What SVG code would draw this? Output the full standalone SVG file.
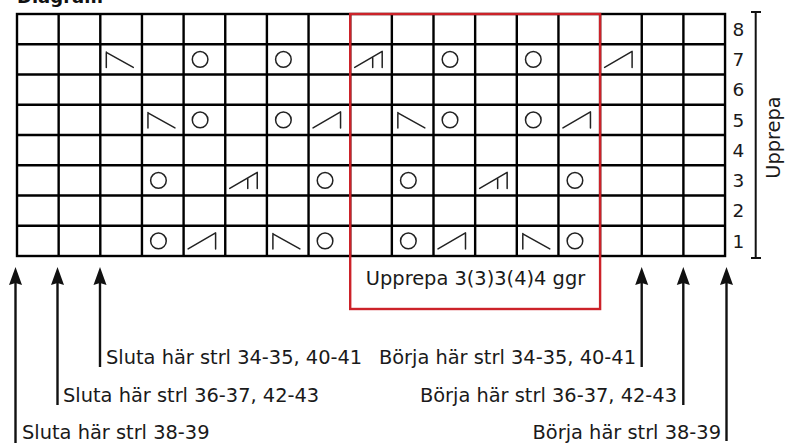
<svg xmlns="http://www.w3.org/2000/svg" width="788" height="446" viewBox="0 0 788 446">
<style>
  .grid{stroke:#000;stroke-width:2.4;fill:none}
  .sym{stroke:#222;stroke-width:1.5;fill:none;stroke-linecap:round;stroke-linejoin:round}
  .red{stroke:#cc2229;stroke-width:2.4;fill:none}
  .t{font-family:"DejaVu Sans",sans-serif;font-size:19.4px;fill:#1a1a1a}
  .num{font-family:"DejaVu Sans",sans-serif;font-size:18.5px;fill:#1a1a1a;text-anchor:middle}
  .shaft{stroke:#111;stroke-width:2.4}
  .head{fill:#111}
</style>
<defs>
  <circle id="circ" class="sym" cx="16.5" cy="0" r="7.8"/>
  <path id="dl" class="sym" d="M6,-7.5 V8 M6,-7 L33,8"/>
  <path id="dr" class="sym" d="M4.5,8 L32,-8 V8"/>
  <path id="dr2" class="sym" d="M4.5,8 L32,-8 V8 M22.5,-2.5 V8"/>
  <path id="ah" class="head" d="M0,0 L6.5,18 L0,16 L-6.5,18 Z"/>
</defs>

<text x="17" y="2.5" style="font-family:'DejaVu Sans',sans-serif;font-size:18px;font-weight:bold;fill:#111">Diagram</text>

<g id="chart">
  <rect class="grid" x="17" y="14" width="708.05" height="242"/>
  <path class="grid" d="M58.65,14V256 M100.3,14V256 M141.95,14V256 M183.6,14V256 M225.25,14V256 M266.9,14V256 M308.55,14V256 M350.2,14V256 M391.85,14V256 M433.5,14V256 M475.15,14V256 M516.8,14V256 M558.45,14V256 M600.1,14V256 M641.75,14V256 M683.4,14V256
  M17,44.25H725 M17,74.5H725 M17,104.75H725 M17,135H725 M17,165.25H725 M17,195.5H725 M17,225.75H725"/>
  <!-- row 7 -->
  <use href="#dl" transform="translate(100.3,59.4)"/>
  <use href="#circ" transform="translate(183.6,59.4)"/>
  <use href="#circ" transform="translate(266.9,59.4)"/>
  <use href="#dr2" transform="translate(350.2,59.4)"/>
  <use href="#circ" transform="translate(433.5,59.4)"/>
  <use href="#circ" transform="translate(516.8,59.4)"/>
  <use href="#dr" transform="translate(600.1,59.4)"/>
  <!-- row 5 -->
  <use href="#dl" transform="translate(141.95,119.9)"/>
  <use href="#circ" transform="translate(183.6,119.9)"/>
  <use href="#circ" transform="translate(266.9,119.9)"/>
  <use href="#dr" transform="translate(308.55,119.9)"/>
  <use href="#dl" transform="translate(391.85,119.9)"/>
  <use href="#circ" transform="translate(433.5,119.9)"/>
  <use href="#circ" transform="translate(516.8,119.9)"/>
  <use href="#dr" transform="translate(558.45,119.9)"/>
  <!-- row 3 -->
  <use href="#circ" transform="translate(141.95,180.4)"/>
  <use href="#dr2" transform="translate(225.25,180.4)"/>
  <use href="#circ" transform="translate(308.55,180.4)"/>
  <use href="#circ" transform="translate(391.85,180.4)"/>
  <use href="#dr2" transform="translate(475.15,180.4)"/>
  <use href="#circ" transform="translate(558.45,180.4)"/>
  <!-- row 1 -->
  <use href="#circ" transform="translate(141.95,240.9)"/>
  <use href="#dr" transform="translate(183.6,240.9)"/>
  <use href="#dl" transform="translate(266.9,240.9)"/>
  <use href="#circ" transform="translate(308.55,240.9)"/>
  <use href="#circ" transform="translate(391.85,240.9)"/>
  <use href="#dr" transform="translate(433.5,240.9)"/>
  <use href="#dl" transform="translate(516.8,240.9)"/>
  <use href="#circ" transform="translate(558.45,240.9)"/>
</g>

<g id="row-numbers">
  <text class="num" x="738.5" y="35.8">8</text>
  <text class="num" x="738.5" y="66.1">7</text>
  <text class="num" x="738.5" y="96.3">6</text>
  <text class="num" x="738.5" y="126.6">5</text>
  <text class="num" x="738.5" y="156.8">4</text>
  <text class="num" x="738.5" y="187.1">3</text>
  <text class="num" x="738.5" y="217.3">2</text>
  <text class="num" x="738.5" y="247.6">1</text>
</g>

<g id="repeat-rows">
  <path d="M755.7,12V258 M751,12H761 M751,258H761" stroke="#111" stroke-width="2"/>
  <text class="t" text-anchor="middle" transform="translate(780,137.5) rotate(-90)">Upprepa</text>
</g>

<g id="repeat-box">
  <rect class="red" x="350.2" y="14" width="249.9" height="295"/>
  <text class="t" x="475.5" y="285" text-anchor="middle">Upprepa 3(3)3(4)4 ggr</text>
</g>

<g id="connectors">
  <line class="shaft" x1="15.5" y1="282" x2="15.5" y2="443"/>
  <line class="shaft" x1="57.5" y1="282" x2="57.5" y2="405"/>
  <line class="shaft" x1="100" y1="282" x2="100" y2="367"/>
  <line class="shaft" x1="641.7" y1="282" x2="641.7" y2="367"/>
  <line class="shaft" x1="683.3" y1="282" x2="683.3" y2="405"/>
  <line class="shaft" x1="726.5" y1="282" x2="726.5" y2="441"/>
  <use href="#ah" transform="translate(15.5,267)"/>
  <use href="#ah" transform="translate(57.5,267)"/>
  <use href="#ah" transform="translate(100,267)"/>
  <use href="#ah" transform="translate(641.7,267)"/>
  <use href="#ah" transform="translate(683.3,267)"/>
  <use href="#ah" transform="translate(726.5,267)"/>
</g>

<g id="label-sluta-34"><text class="t" x="106" y="364">Sluta här strl 34-35, 40-41</text></g>
<g id="label-sluta-36"><text class="t" x="63" y="402">Sluta här strl 36-37, 42-43</text></g>
<g id="label-sluta-38"><text class="t" x="22" y="439">Sluta här strl 38-39</text></g>
<g id="label-borja-34"><text class="t" x="636" y="364" text-anchor="end">Börja här strl 34-35, 40-41</text></g>
<g id="label-borja-36"><text class="t" x="677" y="402" text-anchor="end">Börja här strl 36-37, 42-43</text></g>
<g id="label-borja-38"><text class="t" x="721" y="439" text-anchor="end">Börja här strl 38-39</text></g>
</svg>
